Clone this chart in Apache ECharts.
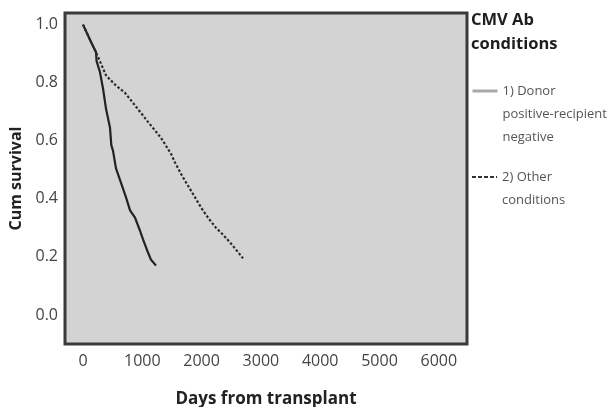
<!DOCTYPE html>
<html>
<head>
<meta charset="utf-8">
<script src="https://cdn.jsdelivr.net/npm/echarts@6/dist/echarts.min.js"></script>
<style>
  html, body { margin: 0; padding: 0; background: #fff; }
  #chart { width: 614px; height: 407px; }
</style>
</head>
<body>
<div id="chart"></div>
<script>
// Kaplan-Meier curves: [days, cumulative survival]
const donorPosRecipNeg = [
  [0, 1.0], [135, 0.94], [219, 0.905], [228, 0.875], [287, 0.835], [337, 0.78],
  [388, 0.71], [455, 0.645], [477, 0.585], [506, 0.565], [556, 0.505], [641, 0.455],
  [725, 0.405], [793, 0.36], [877, 0.335], [961, 0.29], [1012, 0.26], [1096, 0.215],
  [1147, 0.19], [1231, 0.17]
];
const otherConditions = [
  [0, 1.0], [135, 0.94], [219, 0.905], [388, 0.825], [556, 0.79], [708, 0.765],
  [961, 0.70], [1096, 0.665], [1315, 0.61], [1484, 0.555], [1551, 0.525], [1669, 0.48],
  [1771, 0.445], [1889, 0.405], [1990, 0.37], [2108, 0.335], [2243, 0.30], [2344, 0.28],
  [2479, 0.25], [2580, 0.225], [2698, 0.195]
];

const seriesNames = ['1) Donor positive-recipient negative', '2) Other conditions'];
const legendLines = [['1) Donor', 'positive-recipient', 'negative'], ['2) Other', 'conditions']];
const xTicks = [0, 1000, 2000, 3000, 4000, 5000, 6000];
const yTicks = [0, 0.2, 0.4, 0.6, 0.8, 1.0];

const FONT = '"Open Sans", "DejaVu Sans", sans-serif';
const LINE_H = 23;

// legend text is centred on its icon, so pad with blank lines above
// to make the first line sit next to the icon
function legendFor(i, iconY, lineStyle) {
  const n = legendLines[i].length;
  const blanks = new Array(n - 1).fill('');
  const text = blanks.concat(legendLines[i]).join('\n');
  const h = (2 * n - 1) * LINE_H;
  return {
    left: 471,
    top: iconY - h / 2,
    padding: 0,
    orient: 'vertical',
    itemWidth: 25,
    itemHeight: 4,
    selectedMode: false,
    data: [{ name: seriesNames[i], lineStyle: lineStyle, itemStyle: { opacity: 0 } }],
    formatter: () => text,
    textStyle: { fontFamily: FONT, fontSize: 13, color: '#555', lineHeight: LINE_H }
  };
}

const chart = echarts.init(document.getElementById('chart'), null, { renderer: 'canvas' });

chart.setOption({
  animation: false,
  title: {
    text: 'CMV Ab\nconditions',
    left: 471, top: 8, padding: 0,
    textStyle: { fontFamily: FONT, fontSize: 16.5, fontWeight: 'bold', color: '#1e1e1e', lineHeight: 24 }
  },
  legend: [
    legendFor(0, 91, { color: '#a9a9a9', width: 3, type: 'solid' }),
    legendFor(1, 177, { color: '#333', width: 2, type: [4, 2] })
  ],
  grid: {
    left: 65, right: 147, top: 13, bottom: 63,
    containLabel: false, outerBoundsMode: 'none',
    show: true, backgroundColor: '#d3d3d3', borderColor: '#3a3a3a', borderWidth: 3
  },
  xAxis: {
    type: 'value', min: -304, max: 6476,
    name: 'Days from transplant', nameLocation: 'middle', nameGap: 47,
    nameTextStyle: { fontFamily: FONT, fontSize: 17, fontWeight: 'bold', color: '#222' },
    axisLine: { show: false }, axisTick: { show: false }, splitLine: { show: false },
    axisLabel: {
      customValues: xTicks, margin: 9,
      formatter: v => String(v),
      fontFamily: FONT, fontSize: 16, color: '#444'
    }
  },
  yAxis: {
    type: 'value', min: -0.1, max: 1.04,
    name: 'Cum survival', nameLocation: 'middle', nameGap: 33,
    nameTextStyle: { fontFamily: FONT, fontSize: 16, fontWeight: 'bold', color: '#222' },
    axisLine: { show: false }, axisTick: { show: false }, splitLine: { show: false },
    axisLabel: {
      customValues: yTicks, margin: 7,
      formatter: v => v.toFixed(1),
      fontFamily: FONT, fontSize: 16, color: '#444'
    }
  },
  series: [
    {
      name: seriesNames[0], type: 'line', data: donorPosRecipNeg,
      symbol: 'none', lineStyle: { color: '#222', width: 2.2 }, itemStyle: { color: '#222' }
    },
    {
      name: seriesNames[1], type: 'line', data: otherConditions,
      symbol: 'none', lineStyle: { color: '#2a2a2a', width: 2.2, type: [2.5, 2] }, itemStyle: { color: '#2a2a2a' }
    }
  ]
});
</script>
</body>
</html>
